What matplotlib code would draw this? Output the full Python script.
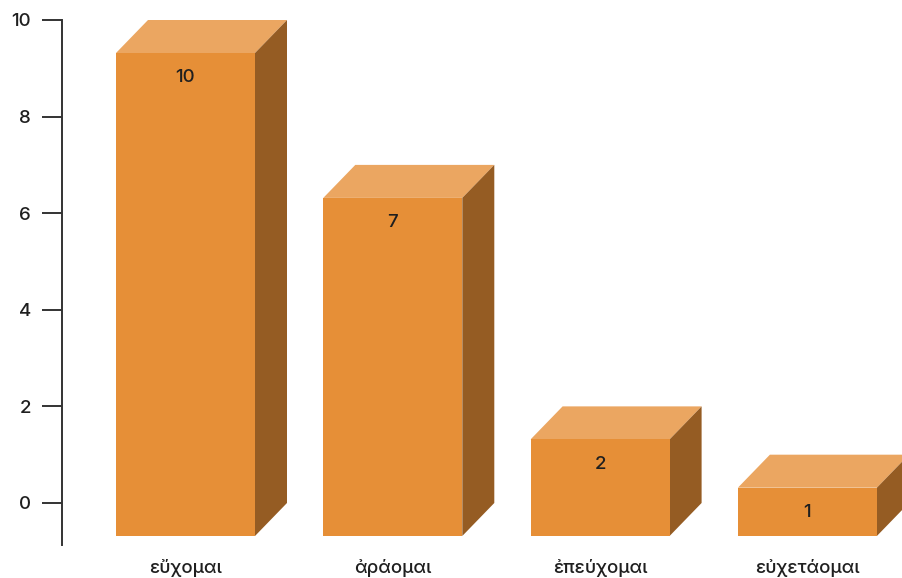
import matplotlib
matplotlib.use("Agg")
import matplotlib.pyplot as plt
from matplotlib.patches import Polygon

plt.rcParams['font.family'] = ['Inter', 'DejaVu Sans']
plt.rcParams['font.weight'] = 500

# Word frequencies
categories = ["εὔχομαι", "ἀράομαι", "ἐπεύχομαι", "εὐχετάομαι"]
counts = [10, 7, 2, 1]
y_ticks = [0, 2, 4, 6, 8, 10]

FRONT = "#E68F37"
TOP = "#EBA661"
SIDE = "#955C23"
AXIS = "#333333"
TEXT = "#1f1f1f"

W, H = 903, 578
fig = plt.figure(figsize=(W / 100, H / 100), dpi=100)

# Axes: left spine at x=62 px, y spans 20..545 px
ax_left, ax_right = 62, 903
ax_top, ax_bottom = 20, 545
ax = fig.add_axes([ax_left / W, 1 - ax_bottom / H,
                   (ax_right - ax_left) / W, (ax_bottom - ax_top) / H])

ymin, ymax = -0.87, 10
ax.set_ylim(ymin, ymax)
px_per_y = (ax_bottom - ax_top) / (ymax - ymin)
px_per_x = 207.3
xmin = -(185.5 - ax_left) / px_per_x
ax.set_xlim(xmin, xmin + (ax_right - ax_left) / px_per_x)

half = 139 / 2 / px_per_x       # half width of front face
dx = 32 / px_per_x              # depth offset, x
dy = 33 / px_per_y              # depth offset, y

for i, v in enumerate(counts):
    # back face sits on the baseline; front face is shifted left/down by the depth
    fl, fr = i - half, i + half
    fb, ft = -dy, v - dy
    top = Polygon([(fl, ft), (fr, ft), (fr + dx, v), (fl + dx, v)],
                  closed=True, facecolor=TOP, edgecolor="none", clip_on=False)
    side = Polygon([(fr, fb), (fr + dx, 0), (fr + dx, v), (fr, ft)],
                   closed=True, facecolor=SIDE, edgecolor="none", clip_on=False)
    front = Polygon([(fl, fb), (fr, fb), (fr, ft), (fl, ft)],
                    closed=True, facecolor=FRONT, edgecolor="none", clip_on=False)
    for p in (top, side, front):
        ax.add_patch(p)
    ax.text(i, ft - 25 / px_per_y, str(v), ha="center", va="center",
            fontsize=13.5, color=TEXT)

ax.set_yticks(y_ticks)
ax.set_yticklabels([str(t) for t in y_ticks], fontsize=13.5, color=TEXT)
ax.tick_params(axis="y", length=14.4, width=1.4, color=AXIS, pad=8)

ax.set_xticks(range(len(categories)))
ax.set_xticklabels(categories, fontsize=13.5, color=TEXT)
ax.tick_params(axis="x", length=0, pad=10)

for s in ("top", "right", "bottom"):
    ax.spines[s].set_visible(False)
ax.spines["left"].set_color(AXIS)
ax.spines["left"].set_linewidth(1.4)
ax.patch.set_alpha(0)

fig.savefig("out.png", dpi=100)
